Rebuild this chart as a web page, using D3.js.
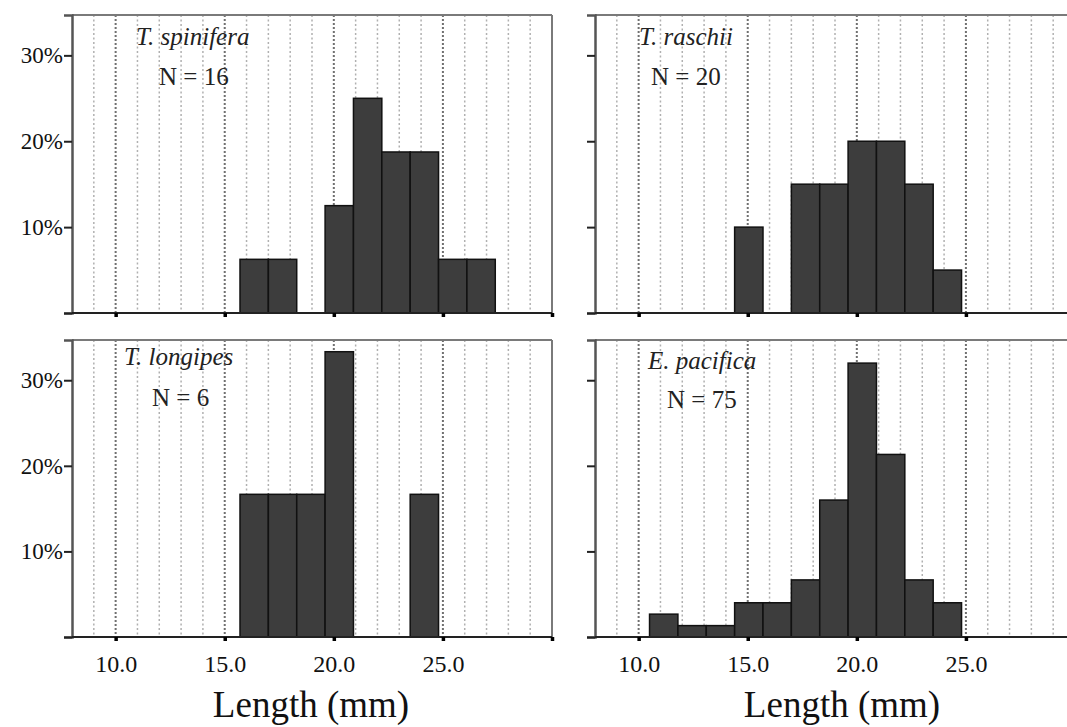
<!DOCTYPE html>
<html>
<head>
<meta charset="utf-8">
<script src="https://cdn.jsdelivr.net/npm/d3@7"></script>
<style>
  html, body { margin: 0; padding: 0; background: #fff; }
  svg { display: block; }
  svg text { font-family: "Liberation Serif", "Times New Roman", "DejaVu Serif", serif; }
</style>
</head>
<body>
<svg id="chart" width="1067" height="727"></svg>
<script>
// ---------------- DATA ----------------
// Shared histogram bin edges (mm), bin width 1.3 mm
const binEdges = [10.5, 11.8, 13.1, 14.4, 15.7, 17.0, 18.3, 19.6, 20.9, 22.2, 23.5, 24.8, 26.1, 27.4];
const species = ["T. spinifera", "T. raschii", "T. longipes", "E. pacifica"];
const sampleSizes = [16, 20, 6, 75];
// percentage of individuals per bin (one value per bin)
const spiniferaPct = [0, 0, 0, 0, 6.25, 6.25, 0, 12.5, 25, 18.75, 18.75, 6.25, 6.25];
const raschiiPct   = [0, 0, 0, 10, 0, 15, 15, 20, 20, 15, 5, 0, 0];
const longipesPct  = [0, 0, 0, 0, 16.67, 16.67, 16.67, 33.33, 0, 0, 16.67, 0, 0];
const pacificaPct  = [2.67, 1.33, 1.33, 4, 4, 6.67, 16, 32, 21.33, 6.67, 4, 0, 0];
const xTickValues = [10, 15, 20, 25, 30];
const xTickLabels = ["10.0", "15.0", "20.0", "25.0", ""];
const yTickValues = [0, 10, 20, 30];
const yTickLabels = ["", "10%", "20%", "30%"];
const gridMinor = d3.range(9, 30, 1);
const xAxisTitle = "Length (mm)";

// ---------------- LAYOUT ----------------
const seriesList = [spiniferaPct, raschiiPct, longipesPct, pacificaPct];
const panels = [
  { x0: 72,  x1: 552,  y0: 15,  y1: 313, labels: true,  bottom: false, nameDx: 64, nameDy: 30, nDx: 87, nDy: 70 },
  { x0: 595, x1: 1075, y0: 15,  y1: 313, labels: false, bottom: false, nameDx: 44, nameDy: 30, nDx: 56, nDy: 70 },
  { x0: 72,  x1: 552,  y0: 340, y1: 637, labels: true,  bottom: true,  nameDx: 52, nameDy: 25, nDx: 80, nDy: 66, titleX: 311 },
  { x0: 595, x1: 1075, y0: 340, y1: 637, labels: false, bottom: true,  nameDx: 53, nameDy: 29, nDx: 72, nDy: 68, titleX: 842 }
];
const serif = '"Liberation Serif", "Times New Roman", "DejaVu Serif", serif';

const svg = d3.select("#chart");

panels.forEach((p, i) => {
  const x = d3.scaleLinear().domain([8, 30]).range([p.x0, p.x1]);
  const y = d3.scaleLinear().domain([0, 34.7]).range([p.y1, p.y0]);
  const g = svg.append("g");

  g.append("rect").attr("x", p.x0).attr("y", p.y0)
    .attr("width", p.x1 - p.x0).attr("height", p.y1 - p.y0).attr("fill", "#fff");

  // minor grid (every mm)
  g.selectAll(".gmin").data(gridMinor.filter(v => v % 5 !== 0)).enter().append("line")
    .attr("x1", d => x(d)).attr("x2", d => x(d))
    .attr("y1", p.y0).attr("y2", p.y1)
    .attr("stroke", "#b0b0b0").attr("stroke-width", 1.5)
    .attr("stroke-dasharray", "2,2.5");
  // major grid
  g.selectAll(".gmaj").data(gridMinor.filter(v => v % 5 === 0)).enter().append("line")
    .attr("x1", d => x(d)).attr("x2", d => x(d))
    .attr("y1", p.y0).attr("y2", p.y1)
    .attr("stroke", "#707070").attr("stroke-width", 2)
    .attr("stroke-dasharray", "2,2");

  // bars
  const bins = seriesList[i].map((v, k) => ({ a: binEdges[k], b: binEdges[k + 1], v }))
    .filter(d => d.v > 0);
  g.selectAll(".bar").data(bins).enter().append("rect")
    .attr("x", d => x(d.a)).attr("width", d => x(d.b) - x(d.a))
    .attr("y", d => y(d.v)).attr("height", d => y(0) - y(d.v))
    .attr("fill", "#3d3d3d").attr("stroke", "#111").attr("stroke-width", 1.5);

  // frame: top & right
  g.append("line").attr("x1", p.x0).attr("x2", p.x1).attr("y1", p.y0).attr("y2", p.y0)
    .attr("stroke", "#7a7a7a").attr("stroke-width", 2);
  g.append("line").attr("x1", p.x1).attr("x2", p.x1).attr("y1", p.y0).attr("y2", p.y1)
    .attr("stroke", "#7a7a7a").attr("stroke-width", 2);

  // y axis
  const yAxis = d3.axisLeft(y).tickValues(yTickValues).tickSize(8).tickPadding(1)
    .tickFormat((d, k) => p.labels ? yTickLabels[k] : "");
  const ya = g.append("g").attr("transform", `translate(${p.x0},0)`).call(yAxis);
  ya.attr("font-family", null);
  ya.select(".domain").attr("stroke", "#555").attr("stroke-width", 2.5);
  ya.selectAll(".tick line").attr("stroke", "#222").attr("stroke-width", 2);
  ya.selectAll(".tick text").style("font-family", serif).attr("font-size", 23)
    .attr("fill", "#111");

  // x axis
  const xAxis = d3.axisBottom(x).tickValues(xTickValues).tickSize(4).tickPadding(14)
    .tickFormat((d, k) => p.bottom ? xTickLabels[k] : "");
  const xa = g.append("g").attr("transform", `translate(0,${p.y1})`).call(xAxis);
  xa.attr("font-family", null);
  xa.select(".domain").attr("stroke", "#222").attr("stroke-width", 2)
    .attr("d", `M${p.x0},0H${p.x1}`);
  xa.selectAll(".tick line").attr("stroke", "#000").attr("stroke-width", 3.5);
  xa.selectAll(".tick text").style("font-family", serif).attr("font-size", 24)
    .attr("fill", "#111");

  // species name & N
  g.append("text").attr("x", p.x0 + p.nameDx).attr("y", p.y0 + p.nameDy)
    .style("font-family", serif).attr("font-style", "italic").attr("font-size", 25)
    .attr("fill", "#222").text(species[i]);
  g.append("text").attr("x", p.x0 + p.nDx).attr("y", p.y0 + p.nDy)
    .style("font-family", serif).attr("font-size", 25)
    .attr("fill", "#222").text("N = " + sampleSizes[i]);

  if (p.bottom) {
    svg.append("text").attr("x", p.titleX).attr("y", 717)
      .attr("text-anchor", "middle").style("font-family", serif).attr("font-size", 37)
      .attr("fill", "#111").text(xAxisTitle);
  }
});
</script>
</body>
</html>
